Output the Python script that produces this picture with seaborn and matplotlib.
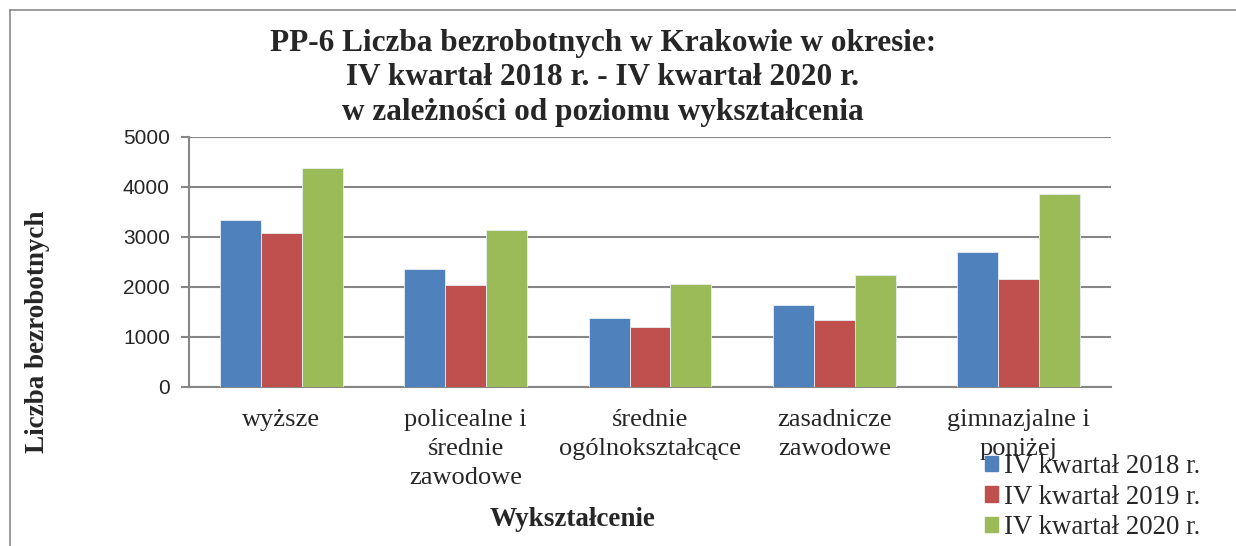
#!/usr/bin/env python3
"""
PP-6 Liczba bezrobotnych w Krakowie wg wykształcenia
"""
import pandas as pd
import seaborn as sns
import matplotlib
matplotlib.use("Agg")
import matplotlib.pyplot as plt
from matplotlib.lines import Line2D

categories = [
    "wyższe",
    "policealne i\nśrednie\nzawodowe",
    "średnie\nogólnokształcące",
    "zasadnicze\nzawodowe",
    "gimnazjalne i\nponiżej",
]
series = ["IV kwartał 2018 r.", "IV kwartał 2019 r.", "IV kwartał 2020 r."]
q4_2018 = [3330, 2355, 1390, 1650, 2695]
q4_2019 = [3085, 2050, 1210, 1350, 2170]
q4_2020 = [4385, 3130, 2060, 2250, 3860]
colors = ["#4F81BD", "#C0504D", "#9BBB59"]

rows = []
for name, vals in zip(series, [q4_2018, q4_2019, q4_2020]):
    for cat, v in zip(categories, vals):
        rows.append({"Wykształcenie": cat, "okres": name, "wartosc": v})
df = pd.DataFrame(rows)

sns.set_style("white")
serif = ["Liberation Serif", "DejaVu Serif"]
sans = ["Liberation Sans", "DejaVu Sans"]

fig = plt.figure(figsize=(12.36, 5.46), dpi=100)
ax = fig.add_axes([189 / 1236, 1 - 387 / 546, 922 / 1236, 250 / 546])

sns.barplot(
    data=df, x="Wykształcenie", y="wartosc", hue="okres",
    palette=colors, width=0.667, gap=0, saturation=1,
    edgecolor="#e8eef6", linewidth=0.6, ax=ax, zorder=3,
)

ax.set_ylim(0, 5000)
ax.set_xlim(-0.5, len(categories) - 0.5)
ax.set_yticks(range(0, 5001, 1000))
ax.yaxis.grid(True, color="#868686", linewidth=1.5, zorder=0)
ax.set_axisbelow(True)
for side in ["top", "right"]:
    ax.spines[side].set_visible(False)
ax.spines["left"].set_color("#868686")
ax.spines["left"].set_linewidth(1.5)
ax.spines["bottom"].set_color("#868686")
ax.spines["bottom"].set_linewidth(1.5)

ax.tick_params(axis="y", direction="out", length=5.8, width=1.5, color="#868686",
               labelsize=15, pad=8, left=True)
for lbl in ax.get_yticklabels():
    lbl.set_family(sans)
ax.tick_params(axis="x", length=0, pad=16)
ax.set_xticks(range(len(categories)))
ax.set_xticklabels(categories, fontsize=19, family=serif, linespacing=1.4)

ax.set_xlabel("")
ax.set_ylabel("")
fig.text(573 / 1236, 1 - 520 / 546, "Wykształcenie", ha="center", va="center",
         fontsize=19.5, fontweight="bold", family=serif)
fig.text(38 / 1236, 1 - 332 / 546, "Liczba bezrobotnych", ha="center", va="center",
         rotation=90, fontsize=19.5, fontweight="bold", family=serif)

fig.text(603 / 1236, 1 - 78 / 546,
         "PP-6 Liczba bezrobotnych w Krakowie w okresie:\n"
         "IV kwartał 2018 r. - IV kwartał 2020 r.\n"
         "w zależności od poziomu wykształcenia",
         ha="center", va="center", fontsize=22.5, fontweight="bold",
         family=serif, linespacing=1.25)

ax.legend_.remove()
handles = [plt.Rectangle((0, 0), 1, 1, color=c) for c in colors]
fig.legend(handles, series, loc="center left",
           bbox_to_anchor=(985 / 1236, 1 - 497 / 546), frameon=False,
           prop={"family": serif, "size": 19.3}, handlelength=0.5,
           handleheight=0.5, handletextpad=0.2, labelspacing=0.2,
           borderpad=0, borderaxespad=0)

# chart frame (left and top edge only visible)
fig.add_artist(Line2D([10 / 1236, 10 / 1236], [0, 1 - 10 / 546],
                      transform=fig.transFigure, color="#8a8a8a", linewidth=1.2))
fig.add_artist(Line2D([10 / 1236, 1], [1 - 10 / 546, 1 - 10 / 546],
                      transform=fig.transFigure, color="#8a8a8a", linewidth=1.2))

fig.savefig("out.png", dpi=100, facecolor="white")
